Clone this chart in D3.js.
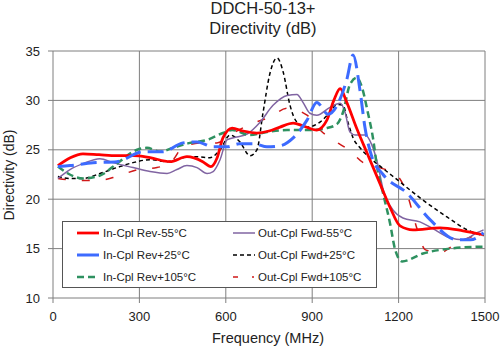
<!DOCTYPE html>
<html><head><meta charset="utf-8">
<script src="https://cdn.jsdelivr.net/npm/d3@7"></script>
<style>body{margin:0;background:#fff}svg{display:block;font-family:Arial,"Liberation Sans",sans-serif}</style>
</head><body><svg id="c" width="500" height="350"></svg>
<script>
const title = ["DDCH-50-13+", "Directivity (dB)"];
const xTicks = [0, 300, 600, 900, 1200, 1500];
const yTicks = [10, 15, 20, 25, 30, 35];
const seriesNames = ["In-Cpl Rev-55°C","In-Cpl Rev+25°C","In-Cpl Rev+105°C","Out-Cpl Fwd-55°C","Out-Cpl Fwd+25°C","Out-Cpl Fwd+105°C"];

const inRevM55 = [[17,23.4],[60,24.2],[104,24.6],[160,24.5],[222,24.4],[280,24.4],[337,24.2],[406,23.8],[465,24.3],[520,23.8],[548,23.3],[570,24.2],[590,26.2],[622,27.2],[660,26.9],[708,26.7],[750,26.9],[788,27.3],[834,27.7],[870,27.4],[916,27.0],[951,28.0],[975,30.0],[997,31.2],[1020,29.8],[1054,27.2],[1093,24.5],[1135,21.6],[1170,19.2],[1205,17.3],[1250,16.9],[1344,17.1],[1424,16.8],[1495,16.4]];
const inRev25 = [[17,23.3],[59,23.4],[139,23.7],[222,23.8],[313,24.8],[382,24.8],[451,25.7],[500,25.8],[556,25.3],[604,25.3],[646,25.6],[700,25.6],[743,25.3],[788,25.4],[834,26.2],[882,28.0],[916,29.8],[955,28.6],[990,29.7],[1020,32.1],[1042,34.6],[1066,31.0],[1083,27.3],[1107,24.3],[1146,22.5],[1230,20.6],[1310,17.9],[1403,15.9],[1450,15.9],[1495,16.6]];
const inRev105 = [[17,23.3],[52,22.6],[104,22.1],[163,22.4],[222,23.6],[292,25.0],[326,25.2],[372,24.8],[417,25.2],[476,25.7],[535,26.0],[590,26.7],[622,27.0],[684,26.5],[743,26.8],[813,27.0],[892,27.0],[951,27.2],[986,27.6],[1007,28.8],[1031,31.6],[1055,32.3],[1073,31.3],[1093,28.8],[1111,26.2],[1125,23.3],[1146,20.6],[1170,17.6],[1188,14.9],[1212,13.7],[1285,14.5],[1378,15.0],[1495,15.2]];
const outFwdM55 = [[17,22.1],[59,23.0],[104,23.6],[163,24.1],[208,23.7],[278,23.2],[337,22.8],[396,22.6],[430,23.0],[465,23.4],[500,23.2],[535,22.6],[556,22.8],[580,24.0],[604,26.0],[638,26.3],[674,26.6],[719,27.8],[764,29.5],[813,30.5],[847,30.6],[868,29.8],[892,28.7],[916,28.5],[962,29.3],[997,29.7],[1014,28.8],[1031,26.8],[1049,26.5],[1083,26.5],[1107,25.5],[1128,23.5],[1146,21.0],[1181,18.9],[1215,18.1],[1274,17.7],[1309,17.2],[1378,16.1],[1424,15.9],[1472,16.6],[1495,16.9]];
const outFwd25 = [[17,22.3],[59,22.1],[104,22.1],[163,22.6],[222,23.2],[278,23.7],[337,24.0],[396,23.8],[451,24.2],[500,24.3],[545,24.2],[580,25.0],[615,26.5],[649,25.8],[684,24.4],[708,25.0],[729,28.7],[753,32.7],[778,34.3],[799,32.9],[823,29.5],[847,27.8],[882,27.3],[927,27.8],[962,28.8],[986,29.6],[1007,29.5],[1024,27.8],[1042,26.2],[1066,25.2],[1100,24.2],[1142,23.2],[1194,22.0],[1285,19.9],[1368,18.2],[1438,16.9],[1495,16.3]];
const outFwd105 = [[17,22.1],[83,21.9],[156,21.9],[222,22.3],[295,23.0],[361,23.2],[417,24.0],[451,25.3],[521,25.7],[569,25.7],[620,26.6],[695,27.7],[753,28.3],[813,29.2],[882,28.5],[927,27.0],[972,26.0],[1031,24.9],[1077,23.7],[1135,23.2],[1198,22.3],[1233,20.2],[1264,17.0],[1292,14.9],[1344,14.6],[1403,15.6],[1495,16.6]];

const allData = [inRevM55, inRev25, inRev105, outFwdM55, outFwd25, outFwd105];
const styles = [
  {c:"#ff0000", w:2.75, d:null},
  {c:"#3d6bff", w:3, d:"16,7"},
  {c:"#2e9160", w:2.5, d:"7,4"},
  {c:"#8064a2", w:1.5, d:null},
  {c:"#000000", w:1.5, d:"4,3"},
  {c:"#d01818", w:1.5, d:"8,16"}
];

const svg = d3.select("#c");
const L=53, R=485, T=51, B=298;
const x = d3.scaleLinear().domain([0,1500]).range([L,R]);
const y = d3.scaleLinear().domain([10,35]).range([B,T]);

const g = svg.append("g");
xTicks.forEach(v=>g.append("line").attr("x1",x(v)).attr("x2",x(v)).attr("y1",T).attr("y2",B+5).attr("stroke","#7f7f7f").attr("stroke-width",1));
yTicks.forEach(v=>g.append("line").attr("x1",L-5).attr("x2",R).attr("y1",y(v)).attr("y2",y(v)).attr("stroke","#7f7f7f").attr("stroke-width",1));

const fs = 13;
yTicks.forEach(v=>svg.append("text").attr("x",40).attr("y",y(v)).attr("dy","0.35em").attr("text-anchor","end").attr("font-size",fs).attr("fill","#222").text(v));
xTicks.forEach(v=>svg.append("text").attr("x",x(v)).attr("y",316).attr("dy","0.35em").attr("text-anchor","middle").attr("font-size",fs).attr("fill","#222").text(v));

svg.append("text").attr("x",268).attr("y",338).attr("dy","0.35em").attr("text-anchor","middle").attr("font-size",14.5).attr("fill","#222").text("Frequency (MHz)");
svg.append("text").attr("transform","translate(9,175) rotate(-90)").attr("dy","0.35em").attr("text-anchor","middle").attr("font-size",14).attr("fill","#222").text("Directivity (dB)");
svg.append("text").attr("x",263).attr("y",8).attr("dy","0.35em").attr("text-anchor","middle").attr("font-size",16.5).attr("fill","#222").text(title[0]);
svg.append("text").attr("x",263).attr("y",28).attr("dy","0.35em").attr("text-anchor","middle").attr("font-size",16.5).attr("fill","#222").text(title[1]);

const line = d3.line().x(d=>x(d[0])).y(d=>y(d[1])).curve(d3.curveMonotoneX);
svg.append("clipPath").attr("id","pc").append("rect").attr("x",L).attr("y",T-6).attr("width",R-L).attr("height",B-T+6);
const lg = svg.append("g").attr("clip-path","url(#pc)");
[5,4,3,2,0,1].forEach(i=>{
  const s=styles[i];
  lg.append("path").datum(allData[i]).attr("d",line).attr("fill","none").attr("stroke",s.c).attr("stroke-width",s.w).attr("stroke-dasharray",s.d);
});

const leg = svg.append("g");
leg.append("rect").attr("x",62.5).attr("y",221.5).attr("width",314).attr("height",66).attr("fill","#fff").attr("stroke","#555").attr("stroke-width",1);
const rowsY=[233,255,277];
seriesNames.forEach((n,i)=>{
  const col = Math.floor(i/3), row=i%3;
  const lx = col===0?77:233, tx = col===0?103:258;
  const s=styles[i];
  leg.append("line").attr("x1",lx).attr("x2",lx+22).attr("y1",rowsY[row]).attr("y2",rowsY[row]).attr("stroke",s.c).attr("stroke-width",s.w).attr("stroke-dasharray",s.d===null?null:(i===5?"5,14,2,4":(i===1?"24,2":s.d)));
  leg.append("text").attr("x",tx).attr("y",rowsY[row]).attr("dy","0.35em").attr("font-size",11.5).attr("fill","#222").text(n);
});
</script></body></html>
